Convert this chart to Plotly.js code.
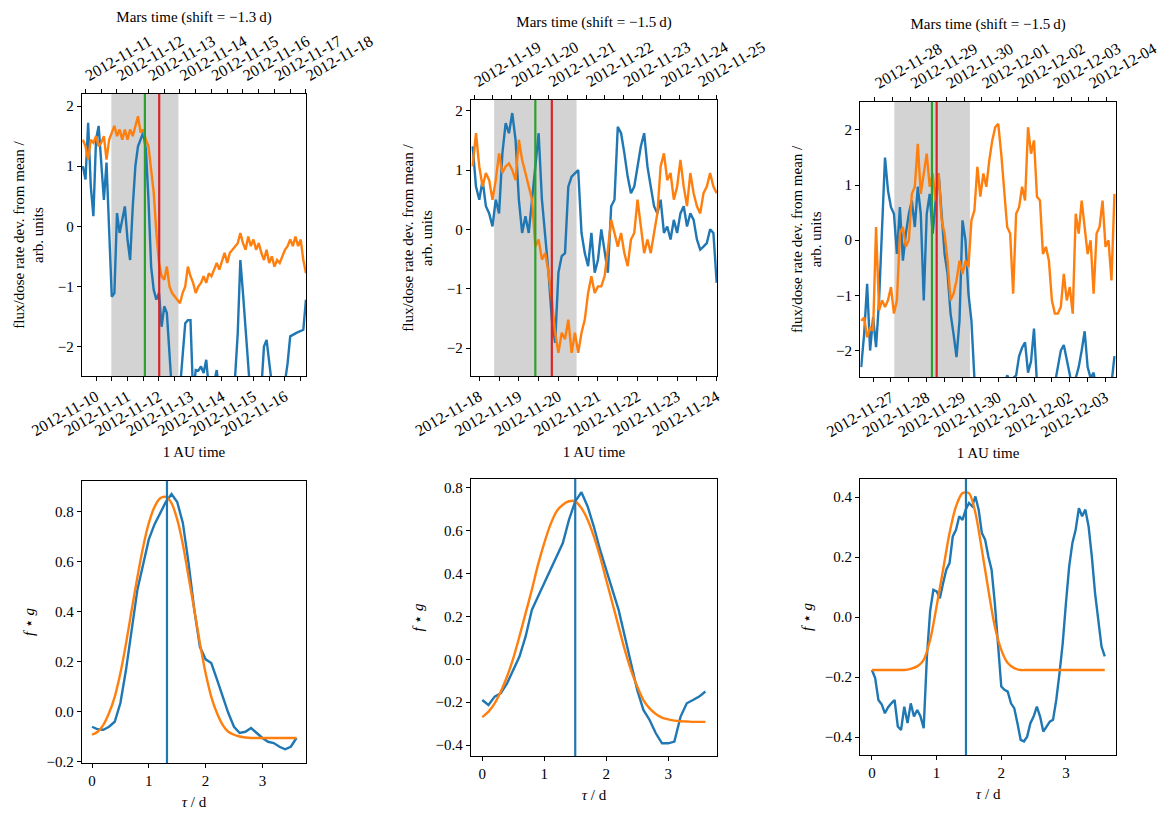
<!DOCTYPE html>
<html>
<head>
<meta charset="utf-8">
<script src="https://cdn.plot.ly/plotly-3.0.1.min.js"></script>
<style>
  html, body { margin: 0; padding: 0; background: white; }
  #plot { width: 1170px; height: 827px; }
</style>
</head>
<body>
<div id="plot"></div>
<script>
// Zeitreihen (oben): Abweichung vom Mittelwert, Stuetzstellen alle 2 h
const start1 = '2012-11-09T14:00';
const blue1 = [1.0, 0.78, 1.72, 0.67, 0.17, 1.44, 1.67, 1.0, 0.44, 1.06, -0.11, -1.17, -1.11, 0.22, -0.11, 0.11,
  0.33, -0.22, -0.56, 0.33, 1.0, 1.33, 1.44, 1.56, 1.28, 0.44, -0.67, -1.06, -1.22, -1.11, -1.67, -1.33,
  -1.44, -2.11, -2.8, -3.0, -3.0, -2.7, -2.22, -1.61, -1.56, -1.56, -2.8, -2.39, -2.4, -2.33, -2.44, -2.22,
  -2.7, -2.8, -2.6, -2.39, -2.8, -3.0, -3.0, -3.0, -3.0, -2.9, -2.5, -1.78, -0.56, -1.11, -1.78, -2.5,
  -2.9, -3.0, -3.0, -3.0, -2.7, -2.0, -1.89, -2.33, -2.8, -3.0, -3.0, -3.0, -2.9, -2.6, -2.28, -1.83,
  -1.8, -1.78, -1.76, -1.74, -1.72, -1.22];
const orange1 = [1.44, 1.33, 1.11, 1.44, 1.39, 1.5, 1.33, 1.39, 1.5, 1.11, 1.44, 1.56, 1.67, 1.5, 1.61, 1.44,
  1.61, 1.44, 1.61, 1.5, 1.67, 1.83, 1.56, 1.61, 1.44, 1.33, 0.94, 0.56, -0.11, -0.61, -0.83, -0.89,
  -0.67, -1.0, -1.11, -1.17, -1.22, -1.28, -1.11, -1.0, -0.67, -0.83, -0.94, -1.11, -1.0, -0.94, -0.83, -0.94,
  -0.78, -0.83, -0.72, -0.61, -0.72, -0.56, -0.44, -0.61, -0.44, -0.39, -0.33, -0.28, -0.11, -0.28, -0.39, -0.17,
  -0.33, -0.22, -0.39, -0.28, -0.44, -0.56, -0.39, -0.61, -0.5, -0.67, -0.56, -0.61, -0.5, -0.39, -0.33, -0.22,
  -0.33, -0.17, -0.33, -0.22, -0.56, -0.78];

const start2 = '2012-11-17T20:00';
const blue2 = [1.4, 0.72, 0.5, 0.83, 0.39, 0.27, 0.05, 0.5, 0.27, 1.28, 1.79, 1.62, 1.96, 1.51, 0.5, -0.06,
  0.22, -0.06, 0.5, 1.06, 1.62, 0.5, -0.06, -0.73, -1.52, -1.91, -0.73, -0.45, -0.4, 0.72, 0.89, 0.95,
  1.0, -0.06, -0.4, -0.62, -0.06, -0.73, -0.51, 0.0, -0.4, -0.73, 0.39, 0.5, 1.73, 1.62, 1.28, 0.89,
  0.61, 0.72, 1.06, 1.4, 1.62, 1.06, 0.72, 0.39, 0.27, 0.5, -0.06, 0.05, -0.17, 0.16, -0.06, 0.27,
  0.39, 0.05, 0.27, 0.16, -0.17, -0.34, -0.29, -0.23, 0.0, -0.06, -0.9];
const orange2 = [1.06, 1.62, 1.06, 0.72, 0.95, 0.83, 0.5, 0.83, 1.28, 0.95, 1.06, 1.11, 1.0, 0.83, 1.51, 1.17,
  0.95, 0.72, 0.5, -0.29, -0.17, -0.51, -0.4, -0.73, -1.18, -1.74, -2.08, -1.74, -1.85, -1.52, -2.08, -1.74,
  -2.08, -1.74, -1.52, -1.07, -0.79, -1.07, -0.96, -0.96, -0.79, -0.34, 0.16, -0.06, -0.29, -0.06, -0.4, -0.62,
  -0.17, -0.06, 0.5, 0.05, -0.4, -0.17, -0.4, -0.06, 0.27, 1.06, 1.28, 0.83, 0.95, 0.5, 0.72, 1.17,
  0.72, 0.39, 0.95, 0.61, 0.39, 0.27, 0.61, 0.72, 0.95, 0.72, 0.61];

const start3 = '2012-11-26T04:00';
const blue3 = [-2.3, -1.7, -0.79, -2.0, -1.4, -1.94, -1.09, 0.3, 1.5, 0.9, 0.6, 0.48, -0.25, 0.6, -0.37, 0.12,
  0.48, 0.72, 0.24, 0.97, 0.48, -1.09, 0.48, 0.84, 0.12, 0.72, 1.21, 0.48, -0.25, -0.61, -1.33, -1.7,
  -2.12, -1.46, 0.36, 0.0, -0.97, -1.46, -2.5, -2.8, -3.0, -3.0, -3.0, -3.0, -3.0, -3.0, -3.0, -2.8,
  -2.6, -2.45, -2.55, -2.5, -2.45, -2.1, -1.95, -1.85, -2.4, -2.2, -1.6, -2.6, -2.9, -3.0, -3.0, -3.0,
  -2.8, -2.6, -2.3, -2.0, -1.9, -2.2, -2.5, -2.7, -2.5, -2.3, -2.0, -1.65, -2.3, -2.5, -2.4, -2.8,
  -3.0, -3.0, -3.0, -2.8, -2.6, -2.1];
const orange3 = [-1.46, -1.4, -1.76, -1.58, -1.64, 0.24, -1.27, -1.09, -1.21, -1.09, -0.85, -1.33, -1.09, 0.12, 0.24, -0.12,
  0.0, 0.84, 0.97, 1.75, 0.84, 1.21, 1.57, 0.97, 1.21, 0.72, 1.21, 0.36, 0.12, -0.37, -1.09, -0.97,
  -0.73, -0.37, -0.61, -0.37, -0.49, 0.36, 0.54, 1.33, 0.79, 1.21, 0.97, 1.45, 1.81, 2.05, 2.11, 1.57,
  0.84, 0.24, 0.12, -0.97, 0.48, 0.6, 0.97, 0.72, 2.05, 1.57, 1.81, 0.79, 0.72, -0.25, -0.12, -0.37,
  -1.09, -1.33, -1.33, -1.21, -0.61, -1.09, -0.85, -1.33, 0.48, 0.12, 0.72, 0.24, -0.25, 0.0, -0.97, 0.12,
  0.24, 0.72, -0.12, 0.0, -0.73, 0.84];

// Markierungen oben: grauer Bereich, gruen, rot
const shadeStart = ['2012-11-10 11:40', '2012-11-18 09:00', '2012-11-27 02:15'];
const shadeEnd = ['2012-11-12 14:50', '2012-11-20 11:00', '2012-11-29 05:00'];
const greenT = ['2012-11-11 13:15', '2012-11-19 10:00', '2012-11-28 03:30'];
const redT = ['2012-11-12 00:10', '2012-11-19 20:00', '2012-11-28 06:40'];
const shiftLabel = ['\u22121.3', '\u22121.5', '\u22121.5'];

// Kreuzkorrelation (unten), tau in d
const tau1Step = 0.1;
const corr1 = [-0.06, -0.07, -0.072, -0.06, -0.04, 0.035, 0.17, 0.34, 0.49, 0.59, 0.69, 0.75, 0.795, 0.84, 0.872, 0.84,
  0.755, 0.595, 0.41, 0.26, 0.21, 0.195, 0.13, 0.06, -0.005, -0.06, -0.085, -0.08, -0.065, -0.085, -0.105, -0.12,
  -0.125, -0.14, -0.15, -0.14, -0.105];
const fit1 = [-0.092, -0.08, -0.052, -0.005, 0.06, 0.155, 0.275, 0.41, 0.54, 0.66, 0.755, 0.82, 0.855, 0.86, 0.835, 0.77,
  0.67, 0.54, 0.41, 0.275, 0.155, 0.06, -0.005, -0.052, -0.08, -0.092, -0.099, -0.103, -0.105, -0.105, -0.105, -0.105,
  -0.105, -0.105, -0.105, -0.105, -0.105];

const tau2Step = 0.1;
const corr2 = [-0.19, -0.213, -0.174, -0.158, -0.112, -0.05, 0.013, 0.107, 0.231, 0.294, 0.356, 0.418, 0.473, 0.543, 0.652, 0.738,
  0.78, 0.714, 0.62, 0.512, 0.418, 0.325, 0.231, 0.107, -0.018, -0.143, -0.236, -0.283, -0.345, -0.392, -0.392, -0.384,
  -0.267, -0.205, -0.19, -0.174, -0.15];
const fit2 = [-0.27, -0.244, -0.205, -0.15, -0.08, 0.005, 0.107, 0.216, 0.325, 0.442, 0.543, 0.629, 0.691, 0.722, 0.738, 0.738,
  0.706, 0.652, 0.574, 0.48, 0.371, 0.262, 0.153, 0.044, -0.05, -0.127, -0.19, -0.229, -0.255, -0.272, -0.28, -0.286,
  -0.289, -0.29, -0.292, -0.292, -0.292];

const tau3Step = 0.05;
const corr3 = [-0.176, -0.203, -0.276, -0.29, -0.32, -0.3, -0.287, -0.276, -0.364, -0.376, -0.298, -0.353, -0.287, -0.331, -0.309, -0.33,
  -0.37, -0.131, 0.02, 0.091, 0.086, 0.063, 0.113, 0.158, 0.18, 0.269, 0.291, 0.336, 0.324, 0.358, 0.38, 0.369,
  0.402, 0.358, 0.28, 0.258, 0.202, 0.158, 0.047, -0.098, -0.231, -0.242, -0.248, -0.287, -0.303, -0.353, -0.409, -0.414,
  -0.398, -0.353, -0.331, -0.298, -0.331, -0.381, -0.364, -0.348, -0.342, -0.276, -0.187, -0.087, 0.047, 0.169, 0.247, 0.291,
  0.363, 0.336, 0.358, 0.302, 0.202, 0.08, -0.009, -0.098, -0.131];
const fit3Step = 0.1;
const fit3 = [-0.176, -0.176, -0.176, -0.176, -0.176, -0.176, -0.172, -0.164, -0.142, -0.076, 0.036, 0.158, 0.28, 0.369, 0.413, 0.413,
  0.347, 0.224, 0.091, -0.031, -0.109, -0.153, -0.17, -0.176, -0.176, -0.176, -0.176, -0.176, -0.176, -0.176, -0.176, -0.176,
  -0.176, -0.176, -0.176, -0.176, -0.176];

const peakTau = [1.32, 1.50, 1.454];

// Stuetzstellen-Raster
function hourGrid(start, n, stepH) {
  const t0 = Date.parse(start + ':00Z');
  const out = [];
  for (let i = 0; i < n; i++) {
    out.push(new Date(t0 + i * stepH * 3600e3).toISOString().slice(0, 16).replace('T', ' '));
  }
  return out;
}
function tauGrid(n, step) {
  const out = [];
  for (let i = 0; i < n; i++) out.push(Math.round(i * step * 1000) / 1000);
  return out;
}

const BLUE = '#1f77b4', ORANGE = '#ff7f0e', GREEN = '#2ca02c', RED = '#d62728';
const LW = 2.4;
const SERIF = 'Liberation Serif';

// Position der Teilbilder (Bruchteile der Flaeche)
const xDom = [[0.0701, 0.2615], [0.4026, 0.6128], [0.7353, 0.9538]];
const yDomTop = [[0.5453, 0.8863], [0.5453, 0.8791], [0.5441, 0.8769]];
const yDomBot = [[0.0774, 0.4184], [0.0859, 0.4208], [0.0871, 0.4208]];

const xRangeBot = [['2012-11-09 13:20', '2012-11-16 16:00'], ['2012-11-17 19:00', '2012-11-24 00:10'], ['2012-11-26 03:25', '2012-12-03 07:00']];
const xRangeTop = [['2012-11-10 21:30', '2012-11-18 00:00'], ['2012-11-18 22:00', '2012-11-25 12:00'], ['2012-11-27 14:10', '2012-12-04 18:10']];
const yRangeTop = [[-2.49, 2.2], [-2.47, 2.18], [-2.48, 2.51]];
const xRangeTau = [[-0.176, 3.767], [-0.181, 3.787], [-0.18, 3.773]];
const yRangeCorr = [[-0.205, 0.924], [-0.451, 0.842], [-0.459, 0.46]];
const yTickMin = [-0.2, -0.4, -0.4];

const series = [
  {start: start1, b: blue1, o: orange1},
  {start: start2, b: blue2, o: orange2},
  {start: start3, b: blue3, o: orange3}
];
const corrs = [
  {c: corr1, cs: tau1Step, f: fit1, fs: tau1Step},
  {c: corr2, cs: tau2Step, f: fit2, fs: tau2Step},
  {c: corr3, cs: tau3Step, f: fit3, fs: fit3Step}
];

const data = [];
const shapes = [];
const layout = {
  width: 1170, height: 827,
  margin: {l: 0, r: 0, t: 0, b: 0},
  paper_bgcolor: 'white', plot_bgcolor: 'white',
  showlegend: false,
  font: {family: SERIF, size: 15, color: 'black'}
};

function axisBase(tickSize) {
  return {
    ticks: 'outside', ticklen: 4, tickwidth: 1, tickcolor: 'black',
    tickfont: {family: SERIF, size: tickSize, color: 'black'},
    showline: true, linecolor: 'black', linewidth: 1.3,
    showgrid: false, zeroline: false, automargin: false
  };
}
function dateTicks() {
  return {
    type: 'date', tickformat: '%Y-%m-%d', dtick: 86400000, tick0: '2012-11-01',
    tickangle: -30,
    minor: {dtick: 43200000, tick0: '2012-11-01 12:00', ticks: 'outside', ticklen: 4, tickwidth: 1, tickcolor: 'black', showgrid: false}
  };
}
function tf() { return {family: SERIF, size: 15, color: 'black'}; }

for (let k = 0; k < 3; k++) {
  const s = series[k];
  const xb = 'x' + (k + 1), yb = 'y' + (k + 1), xt = 'x' + (k + 7);
  const t = hourGrid(s.start, s.b.length, 2);
  data.push({type: 'scatter', mode: 'lines', x: t, y: s.b, xaxis: xb, yaxis: yb, line: {color: BLUE, width: LW}});
  data.push({type: 'scatter', mode: 'lines', x: t, y: s.o, xaxis: xb, yaxis: yb, line: {color: ORANGE, width: LW}});
  // leere Spur, damit die obere Zeitachse gezeichnet wird
  data.push({type: 'scatter', mode: 'lines', x: xRangeTop[k], y: [null, null], xaxis: xt, yaxis: yb,
    line: {width: 0}, hoverinfo: 'skip'});

  layout['xaxis' + (k + 1)] = Object.assign(axisBase(16), dateTicks(), {
    domain: xDom[k], anchor: yb, range: xRangeBot[k], mirror: true,
    title: {text: '1 AU time', standoff: 8, font: tf()}
  });
  layout['yaxis' + (k + 1)] = Object.assign(axisBase(15), {
    domain: yDomTop[k], anchor: xb, range: yRangeTop[k], dtick: 1, mirror: true,
    title: {text: 'flux/dose rate dev. from mean /<br>arb. units', standoff: 10, font: tf()}
  });
  layout['xaxis' + (k + 7)] = Object.assign(axisBase(16), dateTicks(), {
    overlaying: xb, side: 'top', anchor: yb, range: xRangeTop[k],
    title: {text: 'Mars time (shift = ' + shiftLabel[k] + '\u2009d)', standoff: 6, font: tf()}
  });

  shapes.push({type: 'rect', xref: xb, yref: yb + ' domain', x0: shadeStart[k], x1: shadeEnd[k], y0: 0, y1: 1,
    fillcolor: '#d3d3d3', line: {width: 0}, layer: 'below'});
  shapes.push({type: 'line', xref: xb, yref: yb + ' domain', x0: greenT[k], x1: greenT[k], y0: 0, y1: 1,
    line: {color: GREEN, width: 2.2}});
  shapes.push({type: 'line', xref: xb, yref: yb + ' domain', x0: redT[k], x1: redT[k], y0: 0, y1: 1,
    line: {color: RED, width: 2.2}});

  // untere Reihe
  const c = corrs[k];
  const xc = 'x' + (k + 4), yc = 'y' + (k + 4);
  data.push({type: 'scatter', mode: 'lines', x: tauGrid(c.c.length, c.cs), y: c.c, xaxis: xc, yaxis: yc,
    line: {color: BLUE, width: LW}});
  data.push({type: 'scatter', mode: 'lines', x: tauGrid(c.f.length, c.fs), y: c.f, xaxis: xc, yaxis: yc,
    line: {color: ORANGE, width: LW, shape: 'spline', smoothing: 0.8}});
  layout['xaxis' + (k + 4)] = Object.assign(axisBase(15), {
    domain: xDom[k], anchor: yc, range: xRangeTau[k], dtick: 1, tick0: 0, mirror: true,
    title: {text: '<i>\u03c4</i> / d', standoff: 8, font: tf()}
  });
  layout['yaxis' + (k + 4)] = Object.assign(axisBase(15), {
    domain: yDomBot[k], anchor: xc, range: yRangeCorr[k], dtick: 0.2, tick0: yTickMin[k], tickformat: '.1f', mirror: true,
    title: {text: '<i>f</i> \u22c6 <i>g</i>', standoff: 8, font: tf()}
  });
  shapes.push({type: 'line', xref: xc, yref: yc + ' domain', x0: peakTau[k], x1: peakTau[k], y0: 0, y1: 1,
    line: {color: BLUE, width: 2.2}});
}
layout.shapes = shapes;

Plotly.newPlot('plot', data, layout, {staticPlot: true});
</script>
</body>
</html>
